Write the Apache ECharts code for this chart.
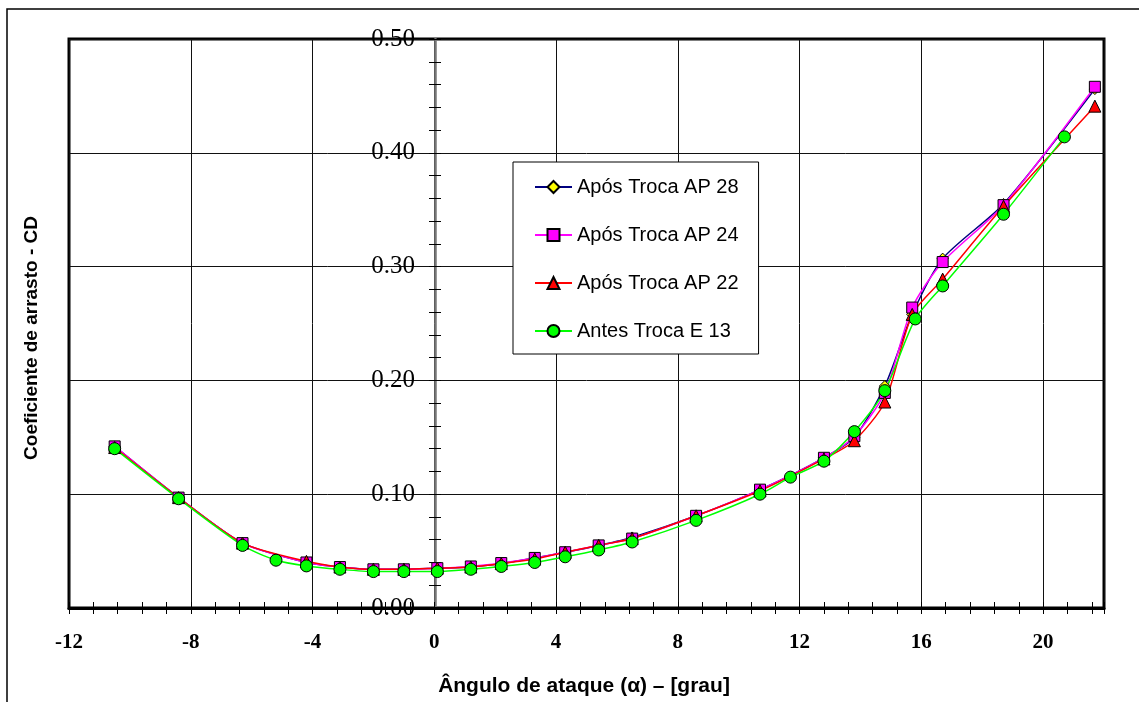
<!DOCTYPE html>
<html>
<head>
<meta charset="utf-8">
<script src="https://cdn.jsdelivr.net/npm/echarts@6/dist/echarts.min.js"></script>
<style>
  html, body { margin: 0; padding: 0; background: #fff; }
  #main { width: 1139px; height: 702px; }
</style>
</head>
<body>
<div id="main"></div>
<script>
// angulo de ataque (grau) e coeficiente de arrasto CD
var apAlpha = [-10.5, -8.4, -6.3, -4.2, -3.1, -2.0, -1.0, 0.1, 1.2, 2.2, 3.3, 4.3, 5.4, 6.5, 8.6, 10.7, 12.8, 13.8, 14.8, 15.7, 16.7, 18.7, 21.7];
var ap28 = [0.142, 0.097, 0.057, 0.040, 0.036, 0.034, 0.034, 0.035, 0.036, 0.039, 0.044, 0.049, 0.055, 0.062, 0.081, 0.104, 0.132, 0.150, 0.195, 0.258, 0.307, 0.355, 0.456];
var ap24 = [0.142, 0.097, 0.057, 0.040, 0.036, 0.034, 0.034, 0.035, 0.0365, 0.0395, 0.044, 0.049, 0.055, 0.061, 0.081, 0.104, 0.132, 0.151, 0.189, 0.264, 0.304, 0.354, 0.458];
var ap22 = [0.141, 0.097, 0.057, 0.041, 0.036, 0.034, 0.034, 0.035, 0.036, 0.039, 0.043, 0.049, 0.055, 0.061, 0.081, 0.103, 0.131, 0.147, 0.181, 0.258, 0.289, 0.353, 0.441];

var e13Alpha = [-10.5, -8.4, -6.3, -5.2, -4.2, -3.1, -2.0, -1.0, 0.1, 1.2, 2.2, 3.3, 4.3, 5.4, 6.5, 8.6, 10.7, 11.7, 12.8, 13.8, 14.8, 15.8, 16.7, 18.7, 20.7];
var e13 = [0.140, 0.096, 0.055, 0.042, 0.037, 0.034, 0.032, 0.032, 0.032, 0.034, 0.0365, 0.040, 0.045, 0.051, 0.058, 0.077, 0.100, 0.115, 0.129, 0.155, 0.191, 0.254, 0.283, 0.346, 0.414];

var names = ['Após Troca AP 28', 'Após Troca AP 24', 'Após Troca AP 22', 'Antes Troca E 13'];

function pares(xs, ys) {
    var out = [];
    for (var i = 0; i < xs.length; i++) {
        out.push([xs[i], ys[i]]);
    }
    return out;
}

function serie(nome, dados, cor, simbolo, tam, corSimb) {
    return {
        name: nome,
        type: 'line',
        data: dados,
        smooth: 0.25,
        symbol: simbolo,
        symbolSize: tam,
        showAllSymbol: true,
        lineStyle: { color: cor, width: 1.5 },
        itemStyle: { color: corSimb, borderColor: '#000', borderWidth: 1 },
        emphasis: { disabled: true }
    };
}

var myChart = echarts.init(document.getElementById('main'));

// eixos so com marcas (cruzando a linha do eixo)
function eixoXMarcas(dentro) {
    return {
        type: 'value', gridIndex: 0, min: -12, max: 22, interval: 0.8, position: 'bottom',
        axisLine: { show: false, onZero: false },
        axisTick: { show: true, inside: dentro, length: 6, lineStyle: { color: '#000', width: 1 } },
        axisLabel: { show: false },
        splitLine: { show: false }
    };
}
function eixoYMarcas(dentro) {
    return {
        type: 'value', gridIndex: 1, min: 0, max: 0.5, interval: 0.02, position: 'left',
        axisLine: { show: false, onZero: false },
        axisTick: { show: true, inside: dentro, length: 6, lineStyle: { color: '#000', width: 1 } },
        axisLabel: { show: false },
        splitLine: { show: false }
    };
}

var option = {
    backgroundColor: '#fff',
    animation: false,
    grid: [{
        left: 69, top: 39, right: 35, bottom: 94,
        show: true, borderColor: '#000', borderWidth: 3, backgroundColor: 'transparent'
    }, {
        // grade auxiliar: eixo vertical em alfa = 0
        left: 435, top: 39, right: 35, bottom: 94, show: false
    }],
    legend: {
        orient: 'vertical',
        left: 513, top: 162,
        data: names,
        itemWidth: 37, itemHeight: 15,
        itemGap: 28,
        padding: [15, 20, 13, 21],
        backgroundColor: '#fff',
        borderColor: '#000', borderWidth: 1, borderRadius: 0,
        textStyle: { fontFamily: 'Liberation Sans, Arial', fontSize: 20, color: '#000', lineHeight: 20 },
        selectedMode: false
    },
    xAxis: [{
        type: 'value', gridIndex: 0, min: -12, max: 22, interval: 4, position: 'bottom',
        axisLine: { show: true, onZero: false, lineStyle: { color: '#000', width: 3 } },
        axisTick: { show: false },
        axisLabel: {
            showMaxLabel: false, margin: 24,
            fontFamily: 'Liberation Serif, Times New Roman', fontWeight: 'bold', fontSize: 21, color: '#000'
        },
        splitLine: { show: true, lineStyle: { color: '#111', width: 1 } }
    }, eixoXMarcas(false), eixoXMarcas(true), {
        type: 'value', gridIndex: 1, min: 0, max: 22, show: false
    }],
    yAxis: [{
        type: 'value', gridIndex: 0, min: 0, max: 0.5, interval: 0.1, position: 'left',
        axisLine: { show: false, onZero: false },
        axisTick: { show: false },
        axisLabel: { show: false },
        splitLine: { show: true, lineStyle: { color: '#111', width: 1 } }
    }, {
        type: 'value', gridIndex: 1, min: 0, max: 0.5, interval: 0.1, position: 'left',
        axisLine: { show: true, onZero: false, lineStyle: { color: '#777', width: 2.5 } },
        axisTick: { show: false },
        axisLabel: {
            margin: 20,
            formatter: function(v) { return v.toFixed(2); },
            fontFamily: 'Liberation Serif, Times New Roman', fontSize: 25, color: '#000'
        },
        splitLine: { show: false }
    }, eixoYMarcas(false), eixoYMarcas(true)],
    graphic: [{
        type: 'rect', silent: true, z: -1,
        shape: { x: 7, y: 9, width: 1300, height: 900 },
        style: { fill: 'none', stroke: '#000', lineWidth: 1.5 }
    }, {
        type: 'text', silent: true,
        x: 32, y: 338, rotation: Math.PI / 2,
        style: {
            text: 'Coeficiente de arrasto - CD',
            fontFamily: 'Liberation Sans, Arial', fontWeight: 'bold', fontSize: 19,
            fill: '#000', align: 'center', verticalAlign: 'middle'
        }
    }, {
        type: 'text', silent: true,
        x: 584, y: 686,
        style: {
            text: 'Ângulo de ataque (α) – [grau]',
            fontFamily: 'Liberation Sans, Arial', fontWeight: 'bold', fontSize: 21,
            fill: '#000', align: 'center', verticalAlign: 'middle'
        }
    }],
    series: [
        serie(names[0], pares(apAlpha, ap28), '#000080', 'diamond', 11, '#ffff00'),
        serie(names[1], pares(apAlpha, ap24), '#ff00ff', 'rect', 11, '#ff00ff'),
        serie(names[2], pares(apAlpha, ap22), '#ff0000', 'triangle', 12, '#ff0000'),
        serie(names[3], pares(e13Alpha, e13), '#00ff00', 'circle', 12, '#00ff00')
    ]
};

myChart.setOption(option);
</script>
</body>
</html>
